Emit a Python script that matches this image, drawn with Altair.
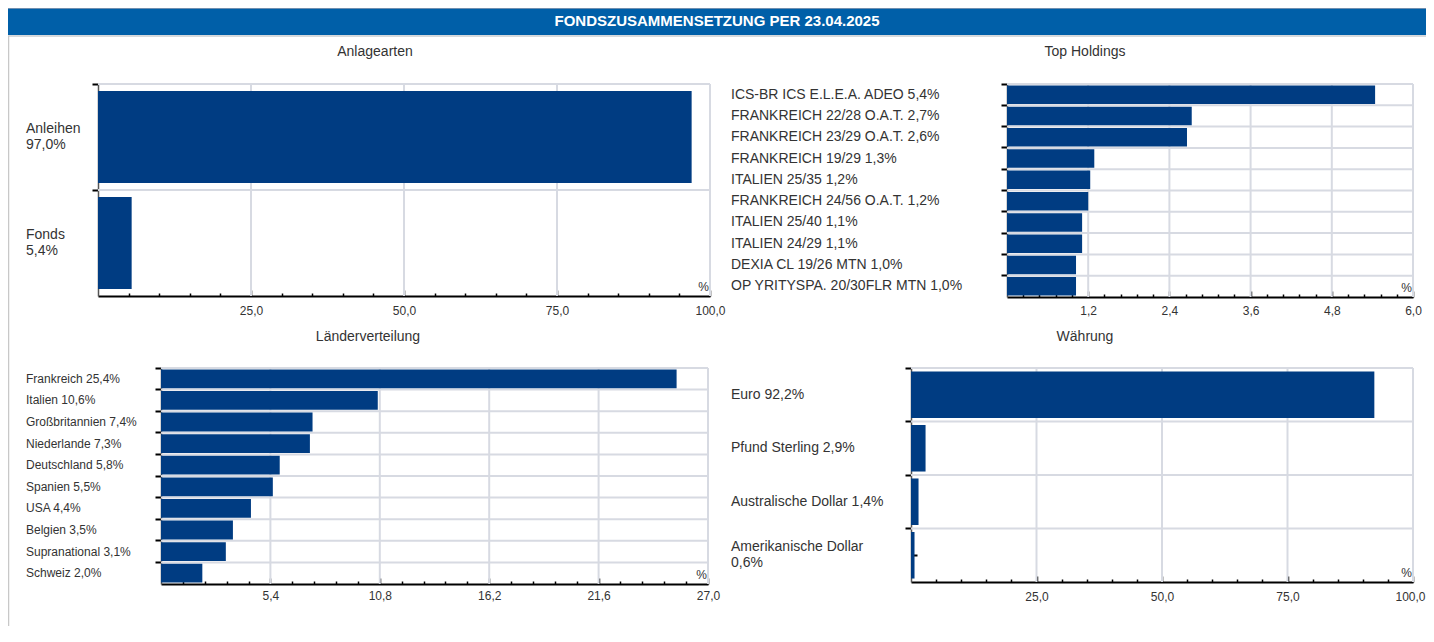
import altair as alt
import pandas as pd

# ---------------- data ----------------
header_text = "FONDSZUSAMMENSETZUNG PER 23.04.2025"

p1_title = "Anlagearten"
p1_names = ["Anleihen", "Fonds"]
p1_labels = ["Anleihen\n97,0%", "Fonds\n5,4%"]
p1_values = [97.0, 5.5]
p1_ticks = [25.0, 50.0, 75.0, 100.0]

p2_title = "Top Holdings"
p2_names = ["ICS-BR ICS E.L.E.A. ADEO", "FRANKREICH 22/28 O.A.T.", "FRANKREICH 23/29 O.A.T.",
            "FRANKREICH 19/29", "ITALIEN 25/35", "FRANKREICH 24/56 O.A.T.", "ITALIEN 25/40",
            "ITALIEN 24/29", "DEXIA CL 19/26 MTN", "OP YRITYSPA. 20/30FLR MTN"]
p2_labels = ["ICS-BR ICS E.L.E.A. ADEO 5,4%", "FRANKREICH 22/28 O.A.T. 2,7%",
             "FRANKREICH 23/29 O.A.T. 2,6%", "FRANKREICH 19/29 1,3%", "ITALIEN 25/35 1,2%",
             "FRANKREICH 24/56 O.A.T. 1,2%", "ITALIEN 25/40 1,1%", "ITALIEN 24/29 1,1%",
             "DEXIA CL 19/26 MTN 1,0%", "OP YRITYSPA. 20/30FLR MTN 1,0%"]
p2_values = [5.44, 2.73, 2.66, 1.29, 1.23, 1.20, 1.11, 1.11, 1.02, 1.02]
p2_ticks = [1.2, 2.4, 3.6, 4.8, 6.0]

p3_title = "Länderverteilung"
p3_names = ["Frankreich", "Italien", "Großbritannien", "Niederlande", "Deutschland",
            "Spanien", "USA", "Belgien", "Supranational", "Schweiz"]
p3_labels = ["Frankreich 25,4%", "Italien 10,6%", "Großbritannien 7,4%", "Niederlande 7,3%",
             "Deutschland 5,8%", "Spanien 5,5%", "USA 4,4%", "Belgien 3,5%",
             "Supranational 3,1%", "Schweiz 2,0%"]
p3_values = [25.45, 10.7, 7.48, 7.35, 5.86, 5.52, 4.44, 3.55, 3.2, 2.04]
p3_ticks = [5.4, 10.8, 16.2, 21.6, 27.0]

p4_title = "Währung"
p4_names = ["Euro", "Pfund Sterling", "Australische Dollar", "Amerikanische Dollar"]
p4_labels = ["Euro 92,2%", "Pfund Sterling 2,9%", "Australische Dollar 1,4%",
             "Amerikanische Dollar\n0,6%"]
p4_values = [92.3, 2.9, 1.5, 0.7]
p4_ticks = [25.0, 50.0, 75.0, 100.0]

# ---------------- style ----------------
W, H = 1418, 618
FONT = "Liberation Sans, Arial, sans-serif"
BAR = "#003c82"
HEAD = "#005fa8"
GRID = "#d7dae2"
TXT = "#333333"
LINE_H = 16


def vtext(txt, x, y, size=13, align="center", baseline="middle", color=TXT, weight="normal"):
    return alt.Chart(pd.DataFrame({"t": [txt]})).mark_text(
        align=align, baseline=baseline, fontSize=size, font=FONT, color=color, fontWeight=weight
    ).encode(x=alt.value(x), y=alt.value(y), text="t:N")


def panel(title, names, labels, values, ticks, x0, x1, y0, y1, label_x, label_size,
          title_x, title_y, lab_pad, last_shift=0):
    df = pd.DataFrame({"cat": names, "label": labels, "v": values})
    tdf = pd.DataFrame({"t": ticks})
    major = ticks[0]
    minor = major / 5
    n_minor = int(round(ticks[-1] / minor))
    all_ticks = [round(minor * k, 4) for k in range(1, n_minor + 1)]

    xs = alt.Scale(domain=[0, ticks[-1]], range=[x0, x1], nice=False, zero=True)
    ys = alt.Scale(domain=names, range=[y0, y1], paddingInner=0, paddingOuter=0)

    vgrid = alt.Chart(tdf).mark_rule(color=GRID, strokeWidth=2).encode(
        x=alt.X("t:Q", scale=xs, axis=None),
        y=alt.value(y0), y2=alt.value(y1),
    )
    hgrid = alt.Chart(df).mark_rule(color=GRID, strokeWidth=2).encode(
        y=alt.Y("cat:N", scale=ys, axis=None, bandPosition=0),
        x=alt.value(x0), x2=alt.value(x1),
    )

    label_offset = {"condition": {"test": f"datum.value >= {ticks[-1]} - 0.001",
                                  "value": last_shift}, "value": 0}
    bars = alt.Chart(df).mark_bar(color=BAR, height=alt.RelativeBandSize(0.87)).encode(
        x=alt.X("v:Q", scale=xs, axis=alt.Axis(
            orient="bottom", offset=y1 - H, values=ticks, title=None,
            labelExpr="replace(format(datum.value, '.1f'), '.', ',')",
            ticks=False, domainColor="black", domainWidth=2, grid=False,
            labelPadding=lab_pad, labelFontSize=12, labelColor=TXT, labelFont=FONT,
            labelOffset=label_offset,
            labelFlush=False, labelOverlap=False, labelBound=False)),
        y=alt.Y("cat:N", scale=ys, axis=alt.Axis(
            orient="left", offset=-x0, bandPosition=0, labels=False, title=None,
            ticks=True, tickSize=6, tickColor="black", tickWidth=2,
            domainColor="#555555", domainWidth=1.5, grid=False)),
    )

    test = f"abs(datum.value / {major} - round(datum.value / {major})) < 0.01"
    carrier = alt.Chart(df).mark_point(opacity=0).encode(
        x=alt.X("v:Q", scale=xs, axis=alt.Axis(
            orient="top", offset=-y1, values=all_ticks, labels=False, domain=False,
            grid=False, title=None, ticks=True, tickColor="black", tickWidth=1.5,
            tickSize={"condition": {"test": test, "value": 6}, "value": 3})),
        y=alt.Y("cat:N", scale=ys, axis=alt.Axis(
            orient="right", offset=x0 - W, bandPosition=0, labels=False, domain=False,
            grid=False, title=None, ticks=True, tickSize=6, tickColor="black", tickWidth=2)),
    )

    def label_layer(expr, dy):
        return alt.Chart(df).transform_filter(expr).mark_text(
            align="left", baseline="middle", fontSize=label_size, font=FONT, color=TXT,
            lineBreak="\n", lineHeight=LINE_H, dy=dy
        ).encode(
            x=alt.value(label_x),
            y=alt.Y("cat:N", scale=ys, axis=None),
            text="label:N",
        )

    single = label_layer("indexof(datum.label, '\\n') < 0", 0)
    multi = label_layer("indexof(datum.label, '\\n') >= 0", -LINE_H / 2)

    pct = vtext("%", x1 - 1, y1 - 2, size=12, align="right", baseline="bottom")
    ttl = vtext(title, title_x, title_y, size=14)
    return [vgrid, hgrid, bars, carrier, single, multi, pct, ttl]


layers = []
# header band and frame
layers.append(alt.Chart(pd.DataFrame({"a": [0]})).mark_rect(color=HEAD).encode(
    x=alt.value(0), x2=alt.value(W), y=alt.value(0), y2=alt.value(27)))
layers.append(alt.Chart(pd.DataFrame({"a": [0]})).mark_rule(color="#6f8fb0", strokeWidth=1).encode(
    x=alt.value(0), x2=alt.value(W), y=alt.value(0.5)))
layers.append(alt.Chart(pd.DataFrame({"a": [0]})).mark_rule(color="#c9ccd0", strokeWidth=1.5).encode(
    x=alt.value(0), x2=alt.value(W), y=alt.value(28)))
layers.append(alt.Chart(pd.DataFrame({"a": [0]})).mark_rule(color="#c8c8c8", strokeWidth=1.5).encode(
    x=alt.value(0.5), y=alt.value(28), y2=alt.value(H)))
layers.append(vtext(header_text, 709, 13, size=15, color="white", weight="bold"))

layers += panel(p1_title, p1_names, p1_labels, p1_values, p1_ticks,
                90, 702, 76, 288, 18, 14, 367, 44, 9)
layers += panel(p2_title, p2_names, p2_labels, p2_values, p2_ticks,
                999, 1405, 76, 289, 723, 14, 1077, 44, 8)
layers += panel(p3_title, p3_names, p3_labels, p3_values, p3_ticks,
                153, 700, 360, 576, 18, 12, 360, 329, 6)
layers += panel(p4_title, p4_names, p4_labels, p4_values, p4_ticks,
                903, 1405, 360, 574, 723, 14, 1077, 329, 9, last_shift=-3)

chart = alt.layer(*layers).resolve_scale(x="independent", y="independent").properties(
    width=W, height=H, autosize=alt.AutoSizeParams(type="none"), padding=0,
    background="white"
).configure_view(stroke=None)

chart.save("out.html", embed_options={"renderer": "svg", "actions": False})
